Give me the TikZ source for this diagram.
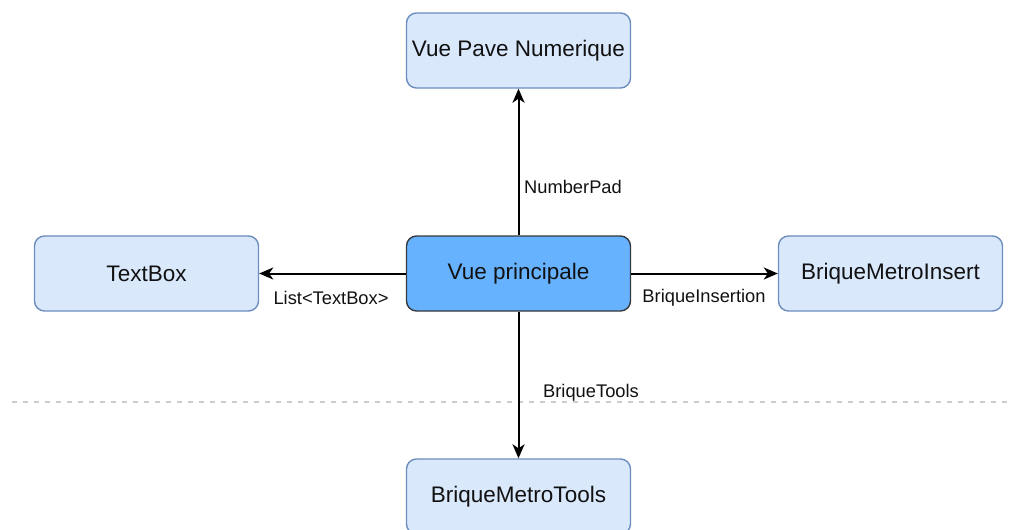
\documentclass[tikz,border=0pt]{standalone}
\usepackage{fontspec}
\setmainfont{Liberation Sans}
\usetikzlibrary{arrows.meta}
\definecolor{boxfill}{HTML}{DAE8FC}
\definecolor{boxline}{HTML}{6C8EBF}
\definecolor{mainfill}{HTML}{66B2FF}
\definecolor{mainline}{HTML}{36393D}
\definecolor{txt}{HTML}{111111}
\definecolor{sep}{HTML}{CCCCCC}
\tikzset{
  blockbox/.style={draw=boxline, fill=boxfill, line width=1.4pt, rounded corners=10pt,
    minimum width=224pt, minimum height=75pt, inner sep=0pt, text=txt,
    font=\fontsize{22.5}{26}\selectfont},
  mainbox/.style={blockbox, draw=mainline, fill=mainfill},
  arr/.style={line width=2pt, -{Stealth[length=14pt,width=12pt,inset=4pt]}},
  lbl/.style={inner sep=0pt, text=txt, font=\fontsize{18.3}{22}\selectfont},
  sepline/.style={draw=sep, line width=1.6pt, dash pattern=on 5pt off 6pt}
}
\begin{document}
\begin{tikzpicture}[x=1pt,y=-1pt]
\useasboundingbox (0,0) rectangle (1015,530);
\clip (0,0) rectangle (1015,530);
\coordinate (sepL) at (12,402);
\coordinate (sepR) at (1012,402);
\draw[sepline] (sepL) -- (sepR);
\node[blockbox] (pave) at (518.5,50.5) {Vue Pave Numerique};
\node[blockbox] (textbox) at (146.5,273.5) {TextBox};
\node[mainbox] (main) at (518.5,273.5) {Vue principale};
\node[blockbox] (insert) at (890.5,273.5) {BriqueMetroInsert};
\node[blockbox] (tools) at (518.5,496.5) {BriqueMetroTools};
\draw[arr] (main) -- (pave);
\draw[arr] (main) -- (textbox);
\draw[arr] (main) -- (insert);
\draw[arr] (main) -- (tools);
\node[lbl] (lnum) at (573,187) {NumberPad};
\node[lbl] (llist) at (331,298) {List<TextBox>};
\node[lbl] (lins) at (704,298) {BriqueInsertion};
\node[lbl] (ltools) at (591,393) {BriqueTools};
\end{tikzpicture}
\end{document}
